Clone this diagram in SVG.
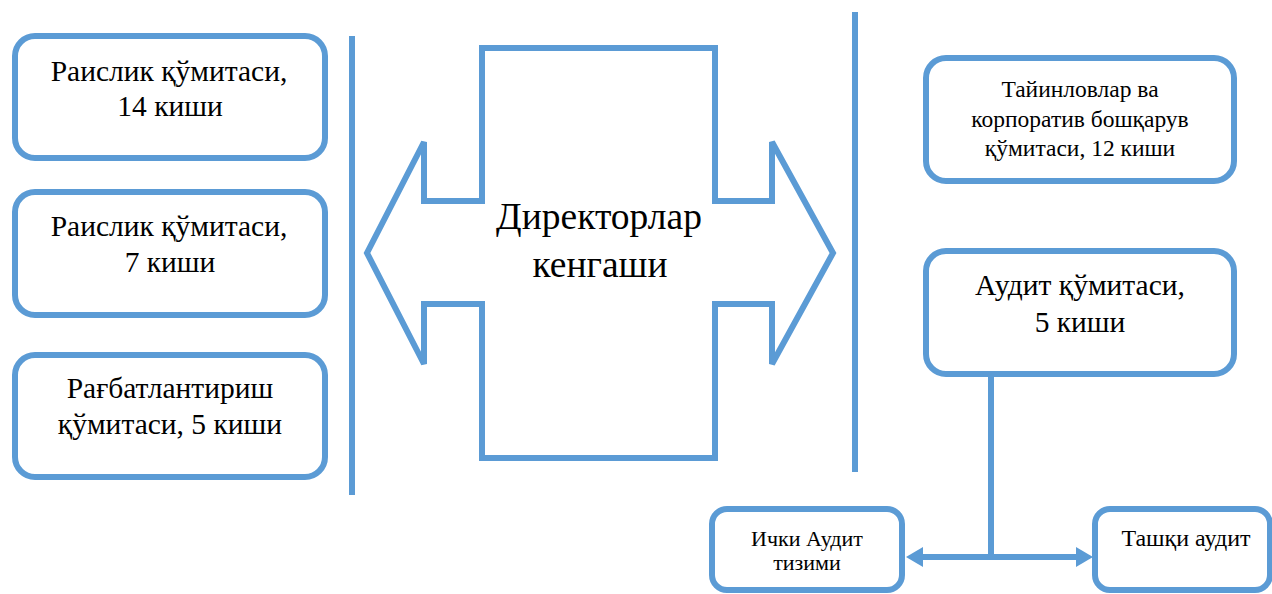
<svg xmlns="http://www.w3.org/2000/svg" width="1272" height="594" viewBox="0 0 1272 594">
<style>
.box{fill:#fff;stroke:#5B9BD5;stroke-width:6}
.ln{fill:none;stroke:#5B9BD5;stroke-width:6}
.t{font-family:"Liberation Serif","Times New Roman","DejaVu Serif",serif;fill:#000;text-anchor:middle}
.tm{font-size:29.5px}
.ts{font-size:23.5px}
.tl{font-size:37.5px}
</style>
<defs>
<marker id="ah" markerUnits="userSpaceOnUse" markerWidth="17" markerHeight="20" refX="0" refY="10" orient="auto">
<path d="M0,0 L17,10 L0,20 Z" fill="#5B9BD5"/>
</marker>
</defs>
<rect width="1272" height="594" fill="#fff"/>

<g id="separators">
<line class="ln" x1="352" y1="36" x2="352" y2="495"/>
<line class="ln" x1="855" y1="12" x2="855" y2="472"/>
</g>

<g id="board">
<path class="ln" stroke-linejoin="miter" d="M482,48 H715 V201 H772 V142 L833,253 L772,364 V304 H715 V458 H482 V304 H424 V364 L367,253 L424,142 V201 H482 Z"/>
<text class="t tl" x="599" y="229">Директорлар</text>
<text class="t tl" x="600" y="277">кенгаши</text>
</g>

<g id="chair14">
<rect class="box" x="15" y="36" width="310" height="122" rx="20"/>
<text class="t tm" x="169" y="81">Раислик қўмитаси,</text>
<text class="t tm" x="170" y="116">14 киши</text>
</g>

<g id="chair7">
<rect class="box" x="15" y="192" width="310" height="123" rx="20"/>
<text class="t tm" x="169" y="236">Раислик қўмитаси,</text>
<text class="t tm" x="170" y="272">7 киши</text>
</g>

<g id="incentive">
<rect class="box" x="15" y="355" width="310" height="122" rx="20"/>
<text class="t tm" x="170" y="398">Рағбатлантириш</text>
<text class="t tm" x="170" y="434">қўмитаси, 5 киши</text>
</g>

<g id="nominations">
<rect class="box" x="926" y="58" width="308" height="123" rx="20"/>
<text class="t ts" x="1080" y="97">Тайинловлар ва</text>
<text class="t ts" x="1080" y="127">корпоратив бошқарув</text>
<text class="t ts" x="1080" y="156">қўмитаси, 12 киши</text>
</g>

<g id="audit">
<rect class="box" x="926" y="251" width="308" height="123" rx="20"/>
<text class="t tm" x="1080" y="295">Аудит қўмитаси,</text>
<text class="t tm" x="1080" y="332">5 киши</text>
</g>

<g id="internal">
<rect class="box" x="712" y="509" width="190" height="81" rx="15"/>
<text class="t" font-size="22" x="807" y="546">Ички Аудит</text>
<text class="t" font-size="22" x="807" y="570">тизими</text>
</g>

<g id="external">
<rect class="box" x="1095" y="509" width="175" height="81" rx="15"/>
<text class="t" font-size="24" x="1186" y="546">Ташқи аудит</text>
</g>

<g id="connectors">
<path class="ln" d="M991,377 V557"/>
<path class="ln" d="M994,557 H923" marker-end="url(#ah)"/>
<path class="ln" d="M988,557 H1076" marker-end="url(#ah)"/>
</g>
</svg>
